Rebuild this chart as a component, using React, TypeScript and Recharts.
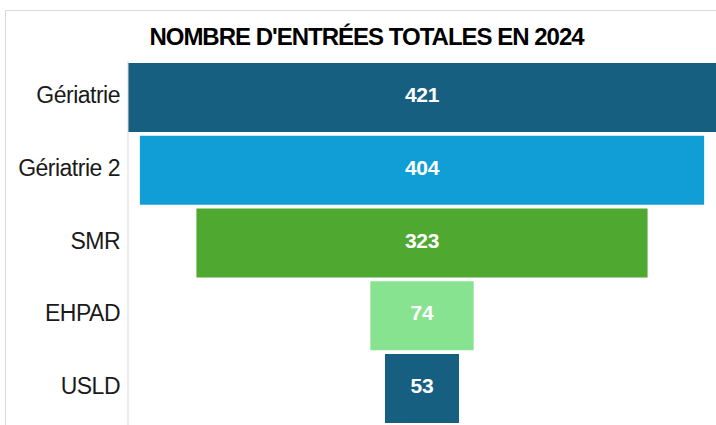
import React from "react";
import { BarChart, Bar, XAxis, YAxis, Cell, LabelList } from "recharts";

const categories = ["Gériatrie", "Gériatrie 2", "SMR", "EHPAD", "USLD"];
const values = [421, 404, 323, 74, 53];
const palette = ["#175F80", "#119ED6", "#4FA82F", "#88E390", "#175F80"];

const maxValue = Math.max(...values);
const data = categories.map((name, i) => ({
  name,
  value: values[i],
  range: [(maxValue - values[i]) / 2, (maxValue + values[i]) / 2],
}));

const FONT = "'Liberation Sans', Arial, sans-serif";

const renderLabel = (props: any) => {
  const { x, y, width, height, index } = props;
  return (
    <text
      x={x + width / 2}
      y={y + height / 2 + 4.5}
      fill="#ffffff"
      textAnchor="middle"
      fontFamily={FONT}
      fontWeight="bold"
      fontSize={21}
      letterSpacing={-0.3}
    >
      {values[index]}
    </text>
  );
};

const CategoryTick = (props: any) => {
  const { x, y, payload } = props;
  return (
    <text
      x={x}
      y={y + 5.5}
      textAnchor="end"
      fill="#1a1a1a"
      fontFamily={FONT}
      fontSize={23}
      letterSpacing={-0.5}
    >
      {payload.value}
    </text>
  );
};

export default function App() {
  return (
    <div style={{ position: "absolute", left: 0, top: 0, width: 716, height: 425, background: "#fff", overflow: "hidden" }}>
      <div
        style={{
          position: "absolute",
          left: 5,
          top: 10,
          width: 720,
          height: 420,
          borderLeft: "1px solid #d9d9d9",
          borderTop: "1px solid #d9d9d9",
        }}
      />
      <div
        style={{
          position: "absolute",
          left: 0,
          top: 25,
          width: 733,
          textAlign: "center",
          fontFamily: FONT,
          fontWeight: "bold",
          fontSize: 24,
          letterSpacing: -1,
          color: "#000",
          lineHeight: "24px",
          whiteSpace: "nowrap",
        }}
      >
        NOMBRE D'ENTRÉES TOTALES EN 2024
      </div>
      <div style={{ position: "absolute", left: 0, top: 0 }}>
        <BarChart
          width={716}
          height={425}
          data={data}
          layout="vertical"
          margin={{ top: 61, right: 0, bottom: 0, left: 0 }}
          barCategoryGap={1.9}
        >
          <XAxis type="number" hide domain={[0, maxValue]} />
          <YAxis
            type="category"
            dataKey="name"
            width={128}
            tickLine={false}
            axisLine={{ stroke: "#d9d9d9" }}
            tick={<CategoryTick />}
          />
          <Bar dataKey="range" isAnimationActive={false}>
            {data.map((d, i) => (
              <Cell key={d.name} fill={palette[i]} />
            ))}
            <LabelList dataKey="value" content={renderLabel} />
          </Bar>
        </BarChart>
      </div>
    </div>
  );
}
